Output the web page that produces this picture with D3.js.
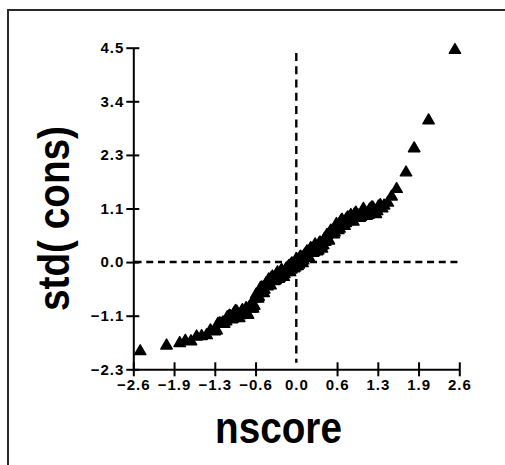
<!DOCTYPE html>
<html>
<head>
<meta charset="utf-8">
<script src="https://cdn.jsdelivr.net/npm/d3@7"></script>
<style>
  html, body { margin: 0; padding: 0; background: #fff; }
  svg { display: block; }
</style>
</head>
<body>
<svg id="chart" width="505" height="465"></svg>
<script>
// Normal scores (x) and standardized values of cons (y)
const nscore = [
  -2.49, -2.07, -1.86, -1.77, -1.68, -1.59, -1.51, -1.43, -1.37,
  -1.30, -1.27, -1.25, -1.22, -1.20, -1.17, -1.15, -1.12, -1.10, -1.07,
  -1.05, -1.03, -1.01, -0.99, -0.97, -0.95, -0.93, -0.91, -0.89, -0.87,
  -0.86, -0.84, -0.82, -0.80, -0.79, -0.77, -0.75, -0.73, -0.72, -0.70,
  -0.69, -0.67, -0.66, -0.64, -0.63, -0.61, -0.60, -0.58, -0.57, -0.55,
  -0.54, -0.52, -0.51, -0.49, -0.48, -0.46, -0.45, -0.44, -0.43, -0.41,
  -0.40, -0.38, -0.37, -0.36, -0.35, -0.33, -0.32, -0.30, -0.29, -0.28,
  -0.27, -0.25, -0.24, -0.23, -0.22, -0.20, -0.19, -0.17, -0.16, -0.15,
  -0.14, -0.12, -0.11, -0.10, -0.09, -0.07, -0.06, -0.05, -0.04, -0.02,
  -0.01,  0.00,  0.01,  0.02,  0.04,  0.05,  0.06,  0.07,  0.09,  0.10,
   0.11,  0.12,  0.14,  0.15,  0.16,  0.17,  0.19,  0.20,  0.22,  0.23,
   0.24,  0.25,  0.27,  0.28,  0.29,  0.30,  0.32,  0.33,  0.35,  0.36,
   0.37,  0.38,  0.40,  0.41,  0.43,  0.44,  0.45,  0.46,  0.48,  0.49,
   0.51,  0.52,  0.54,  0.55,  0.57,  0.58,  0.60,  0.61,  0.63,  0.64,
   0.66,  0.67,  0.69,  0.70,  0.72,  0.73,  0.75,  0.77,  0.79,  0.80,
   0.82,  0.84,  0.86,  0.87,  0.89,  0.91,  0.93,  0.95,  0.97,  0.99,
   1.01,  1.03,  1.05,  1.07,  1.10,  1.12,  1.15,  1.17,  1.20,  1.22,
   1.25,  1.27,  1.29,  1.31,  1.34,  1.37,  1.40,
   1.46,  1.52,  1.60,  1.75,  1.88,  2.11,  2.53
];
const stdCons = [
  -1.89, -1.77, -1.72, -1.67, -1.68, -1.58, -1.57, -1.55, -1.45,
  -1.47, -1.45, -1.31, -1.30, -1.31, -1.28, -1.31, -1.26, -1.17, -1.14,
  -1.15, -1.22, -1.20, -1.08, -1.04, -1.05, -1.13, -1.19, -1.13, -1.05,
  -1.02, -1.10, -1.05, -0.98, -1.10, -1.12, -0.96, -0.92, -0.99, -0.96,
  -0.99, -0.93, -0.78, -0.69, -0.72, -0.78, -0.74, -0.61, -0.55, -0.54,
  -0.61, -0.66, -0.59, -0.49, -0.45, -0.52, -0.45, -0.37, -0.48, -0.50,
  -0.34, -0.31, -0.39, -0.37, -0.41, -0.39, -0.28, -0.22, -0.28, -0.36,
  -0.34, -0.22, -0.18, -0.18, -0.26, -0.32, -0.26, -0.17, -0.14, -0.22,
  -0.17, -0.09, -0.20, -0.22, -0.06, -0.03, -0.11, -0.09, -0.14, -0.12,
  -0.01,  0.06, -0.01, -0.09, -0.06,  0.06,  0.10,  0.11,  0.03, -0.03,
   0.03,  0.13,  0.16,  0.08,  0.13,  0.22,  0.10,  0.09,  0.25,  0.29,
   0.21,  0.24,  0.19,  0.21,  0.31,  0.37,  0.30,  0.22,  0.24,  0.36,
   0.40,  0.41,  0.33,  0.28,  0.35,  0.45,  0.49,  0.42,  0.48,  0.57,
   0.46,  0.45,  0.62,  0.66,  0.59,  0.62,  0.58,  0.62,  0.73,  0.80,
   0.74,  0.67,  0.70,  0.83,  0.88,  0.89,  0.81,  0.76,  0.82,  0.91,
   0.94,  0.86,  0.91,  0.99,  0.87,  0.85,  1.01,  1.04,  0.96,  0.98,
   0.93,  0.95,  1.05,  1.12,  1.05,  0.97,  0.99,  1.11,  1.15,  1.15,
   1.07,  1.01,  1.07,  1.17,  1.20,  1.13,  1.19,
   1.25,  1.38,  1.54,  1.89,  2.40,  2.99,  4.48
];

// Axis ticks (evenly spaced) and their printed labels
const xDomain = [-2.6, 2.6];
const xTicks = [-2.6, -1.95, -1.3, -0.65, 0, 0.65, 1.3, 1.95, 2.6];
const xTickLabels = ["\u22122.6", "\u22121.9", "\u22121.3", "\u22120.6", "0.0", "0.6", "1.3", "1.9", "2.6"];
const yDomain = [-2.27, 4.53];
const yTicks = [-2.27, -1.137, -0.003, 1.13, 2.263, 3.397, 4.53];
const yTickLabels = ["\u22122.3", "\u22121.1", "0.0", "1.1", "2.3", "3.4", "4.5"];

// Dashed reference lines through the origin
const hRef = { y: 0, x0: -2.58, x1: 2.6 };
const vRef = { x: 0, y0: 4.42, y1: -2.13 };

const svg = d3.select("#chart");
const fontFamily = "Liberation Sans, Arial, Helvetica, sans-serif";

// frame
svg.append("path")
  .attr("d", "M8,470V10H512")
  .attr("fill", "none")
  .attr("stroke", "#2a2a2a")
  .attr("stroke-width", 2);

const x = d3.scaleLinear().domain(xDomain).range([133.3, 459.3]);
const y = d3.scaleLinear().domain(yDomain).range([369.3, 47.7]);

// reference lines
svg.append("line")
  .attr("x1", x(hRef.x0)).attr("x2", x(hRef.x1))
  .attr("y1", y(hRef.y)).attr("y2", y(hRef.y))
  .attr("stroke", "#000").attr("stroke-width", 2.4)
  .attr("stroke-dasharray", "7,4.7");
svg.append("line")
  .attr("x1", x(vRef.x)).attr("x2", x(vRef.x))
  .attr("y1", y(vRef.y0)).attr("y2", y(vRef.y1))
  .attr("stroke", "#000").attr("stroke-width", 2.4)
  .attr("stroke-dasharray", "8,5.3");

// x axis
const xAxis = svg.append("g")
  .attr("transform", `translate(0,${y(yDomain[0])})`)
  .call(d3.axisBottom(x).tickValues(xTicks)
    .tickFormat((d, i) => xTickLabels[i]).tickSizeOuter(0).tickSizeInner(7))
  .attr("font-size", 15)
  .attr("font-family", fontFamily)
  .attr("font-weight", "bold");
xAxis.select(".domain").attr("stroke", "#000").attr("stroke-width", 2);
xAxis.selectAll(".tick line")
  .attr("y1", -7).attr("y2", 7)
  .attr("stroke", "#000").attr("stroke-width", 2)
  .attr("display", d => d === 0 ? "none" : null);
xAxis.selectAll(".tick text")
  .attr("y", 10).attr("dy", "0.71em")
  .attr("fill", "#000")
  .attr("letter-spacing", 1);

// y axis
const yAxis = svg.append("g")
  .attr("transform", `translate(${x(xDomain[0])},0)`)
  .call(d3.axisLeft(y).tickValues(yTicks)
    .tickFormat((d, i) => yTickLabels[i]).tickSizeOuter(0).tickSizeInner(7))
  .attr("font-size", 15)
  .attr("font-family", fontFamily)
  .attr("font-weight", "bold");
yAxis.select(".domain").attr("stroke", "#000").attr("stroke-width", 2);
yAxis.selectAll(".tick line")
  .attr("x1", -7).attr("x2", 6)
  .attr("stroke", "#000").attr("stroke-width", 2);
yAxis.selectAll(".tick text")
  .attr("x", -9)
  .attr("fill", "#000")
  .attr("letter-spacing", 1);

// points
const tri = d3.symbol().type(d3.symbolTriangle).size(56);
svg.append("g")
  .selectAll("path")
  .data(nscore.map((v, i) => [v, stdCons[i]]))
  .join("path")
  .attr("d", tri)
  .attr("transform", d => `translate(${x(d[0])},${y(d[1])})`)
  .attr("fill", "#000")
  .attr("stroke", "#000")
  .attr("stroke-width", 1.4)
  .attr("stroke-linejoin", "round");

// axis titles
svg.append("text")
  .attr("transform", "translate(278.5,443) scale(0.86,1)")
  .attr("text-anchor", "middle")
  .attr("font-family", fontFamily)
  .attr("font-weight", "bold")
  .attr("font-size", 45)
  .text("nscore");

svg.append("text")
  .attr("transform", "translate(69,218.5) rotate(-90) scale(0.86,1)")
  .attr("text-anchor", "middle")
  .attr("font-family", fontFamily)
  .attr("font-weight", "bold")
  .attr("font-size", 45)
  .text("std( cons)");
</script>
</body>
</html>
